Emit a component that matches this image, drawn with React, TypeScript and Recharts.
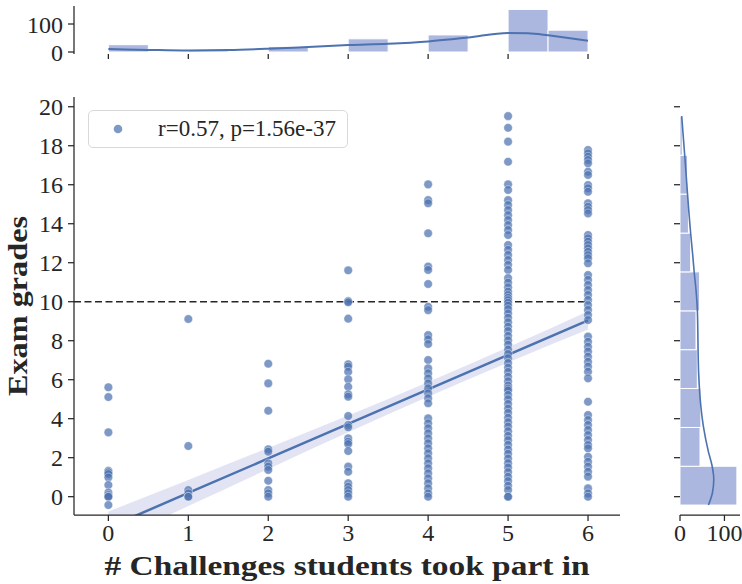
import React from 'react';
import {
  ComposedChart,
  Scatter,
  Line,
  Area,
  XAxis,
  YAxis,
  ReferenceLine,
  ReferenceArea,
  Legend,
} from 'recharts';

const FONT = "'Liberation Serif', 'DejaVu Serif', 'Times New Roman', serif";
const INK = '#262626';
const BLUE = '#4C72B0';
const HIST = '#abb7df';
const BAND = '#e2e4f4';

// ---------- categories ----------
const challengeCounts = [0, 1, 2, 3, 4, 5, 6];

// ---------- exam grades for each number of challenges ----------
const grades0 = [5.61, 5.11, 3.3, 1.33, 1.25, 1.16, 0.99, 0.6, 0.21, 0.09, 0.0, 0.0, -0.43];
const grades1 = [9.11, 2.6, 0.34, 0.17, 0.0, 0.0];
const grades2 = [6.82, 5.81, 4.41, 2.43, 2.31, 1.71, 1.54, 1.37, 0.82, 0.34, 0.17, 0.0];
const grades3 = [
  11.61, 10.03, 9.97, 9.13, 6.79, 6.67, 6.41, 6.02, 5.64, 5.25, 5.13, 4.14, 3.68, 3.56, 2.99, 2.82,
  2.7, 2.34, 1.54, 1.28, 0.69, 0.51, 0.34, 0.17, 0.0,
];
const grades4 = [
  16.02, 15.21, 15.05, 13.51, 11.8, 11.63, 10.91, 9.74, 9.57, 8.29, 8.07, 7.83, 7.01, 6.58, 6.33,
  6.07, 5.81, 5.56, 5.3, 5.05, 4.79, 4.02, 3.76, 3.51, 3.25, 2.99, 2.74, 2.48, 2.23, 1.97, 1.71,
  1.46, 1.2, 0.94, 0.69, 0.43, 0.17, 0.0,
];
const grades5 = [
  19.52, 18.92, 18.21, 17.18, 16.02, 15.73, 15.21, 14.96, 14.7, 14.44, 14.19, 13.93, 13.68, 13.42,
  12.91, 12.66, 12.4, 12.14, 11.89, 11.63, 11.21, 10.98, 10.74, 10.52, 10.35, 10.2, 10.08, 9.95,
  9.8, 9.62, 9.4, 9.18, 8.95, 8.72, 8.5, 8.25, 8.02, 7.8, 7.55, 7.32, 7.1, 6.86, 6.62, 6.4, 6.15,
  5.92, 5.7, 5.55, 5.45, 5.22, 5.0, 4.76, 4.52, 4.3, 4.05, 3.82, 3.6, 3.36, 3.12, 2.9, 2.66, 2.42,
  2.2, 1.96, 1.72, 1.5, 1.26, 1.02, 0.8, 0.56, 0.34, 0.0, 0.0,
];
const grades6 = [
  17.78, 17.61, 17.44, 17.27, 17.1, 16.67, 16.5, 15.98, 15.82, 15.64, 15.05, 14.87, 14.7, 14.53,
  13.42, 13.25, 13.08, 12.91, 12.74, 12.56, 12.39, 12.23, 11.97, 11.37, 11.12, 10.86, 10.6, 10.35,
  10.09, 9.83, 9.58, 9.32, 9.06, 8.21, 7.95, 7.69, 7.44, 7.18, 6.92, 6.67, 6.41, 6.07, 4.87, 4.19,
  3.93, 3.68, 3.42, 3.16, 2.91, 2.65, 2.48, 2.05, 1.79, 1.54, 1.28, 1.03, 0.43, 0.17, 0.0,
];
const gradesByChallenge = [grades0, grades1, grades2, grades3, grades4, grades5, grades6];

// ---------- regression line + confidence band ----------
const regX = [0, 1, 2, 3, 4, 5, 6];
const regY = [-1.58, 0.19, 1.96, 3.73, 5.5, 7.27, 9.04];
const ciLow = [-2.4, -0.48, 1.42, 3.3, 5.12, 6.88, 8.57];
const ciHigh = [-0.76, 0.86, 2.5, 4.16, 5.88, 7.66, 9.51];

const passMark = 10;
const passMarkEndX = 6;
const legendLabel = 'r=0.57, p=1.56e-37';
const xTitle = '# Challenges students took part in';
const yTitle = 'Exam grades';

// ---------- ticks ----------
const xTicks = [0, 1, 2, 3, 4, 5, 6];
const yTicks = [0, 2, 4, 6, 8, 10, 12, 14, 16, 18, 20];
const countTicks = [0, 100];

// ---------- top marginal histogram (challenges) ----------
const topBinStart = [0, 1, 2, 3, 4, 5, 5.5];
const topBinEnd = [0.5, 1.5, 2.5, 3.5, 4.5, 5.5, 6];
const topBinCount = [26, 7, 20, 47, 61, 152, 78];
const topKdeX = [0, 0.5, 1, 1.5, 2, 2.5, 3, 3.5, 4, 4.5, 5, 5.25, 5.5, 6];
const topKdeCount = [10.6, 7.5, 5.3, 7, 11.8, 18, 24.7, 29.4, 37.6, 51.8, 68.2, 67, 60, 40];

// ---------- right marginal histogram (grades) ----------
const rightBinEdges = [-0.43, 1.56, 3.55, 5.55, 7.54, 9.53, 11.53, 13.52, 15.52, 17.51, 19.52];
const rightBinCount = [128, 45, 47, 39, 36, 44, 24, 19, 17, 5];
const rightKdeGrade = [-0.43, 0.2, 0.9, 1.6, 2.3, 3.6, 4.7, 5.6, 6.3, 7.6, 8.9, 9.6, 10.6, 11.5, 12.4, 13.5, 15.5, 17.4, 19.52];
const rightKdeCount = [64, 73, 76, 72, 64, 52.6, 46.6, 43.6, 42, 40.6, 39.8, 39, 36, 32, 28.6, 24, 17, 11, 3.8];

// ---------- axis domains ----------
const X_DOMAIN: [number, number] = [-0.43, 6.4];
const Y_DOMAIN: [number, number] = [-0.94, 20.5];
const TOP_COUNT_DOMAIN: [number, number] = [-7.14, 164.3];
const RIGHT_COUNT_DOMAIN: [number, number] = [0, 135];

// ---------- derived tables ----------
const scatterData = challengeCounts.flatMap((c, i) =>
  gradesByChallenge[i].map((g) => ({ x: c, y: g }))
);
const regData = regX.map((x, i) => ({ x, y: regY[i] }));
const bandData = regX.map((x, i) => ({ x, lo: ciLow[i], hi: ciHigh[i] }));
const topKdeData = topKdeX.map((x, i) => ({ x, c: topKdeCount[i] }));
const rightKdeData = rightKdeGrade.map((g, i) => ({ g, c: rightKdeCount[i] }));

const axisStyle = { stroke: INK, strokeWidth: 1.25 };
const tickStyle = { fontSize: 24, fill: INK, fontFamily: FONT };
const NoLabel = () => <g />;

const Dot = (p: any) => (
  <circle
    cx={p.cx}
    cy={p.cy}
    r={4.3}
    fill={BLUE}
    fillOpacity={0.72}
    stroke="#ffffff"
    strokeWidth={0.5}
    strokeOpacity={0.8}
  />
);

const XTitle = (props: any) => {
  const vb = props.viewBox || { x: 74, y: 515, width: 546, height: 69 };
  return (
    <text
      x={vb.x + vb.width / 2}
      y={vb.y + 60}
      textAnchor="middle"
      fontFamily={FONT}
      fontWeight="bold"
      fontSize={27}
      fill={INK}
      textLength={485}
      lengthAdjust="spacingAndGlyphs"
    >
      {xTitle}
    </text>
  );
};

const YTitle = (props: any) => {
  const vb = props.viewBox || { x: 0, y: 97, width: 74, height: 418 };
  const cx = vb.x + 27;
  const cy = vb.y + vb.height / 2;
  return (
    <text
      x={cx}
      y={cy}
      transform={`rotate(-90 ${cx} ${cy})`}
      textAnchor="middle"
      fontFamily={FONT}
      fontWeight="bold"
      fontSize={27}
      fill={INK}
      textLength={180}
      lengthAdjust="spacingAndGlyphs"
    >
      {yTitle}
    </text>
  );
};

const LegendBox = (props: any) => {
  const entry = (props.payload || []).find((p: any) => p.type !== 'none');
  return (
    <div
      style={{
        boxSizing: 'border-box',
        width: 260,
        height: 38,
        border: '1px solid #d9d9d9',
        borderRadius: 5,
        background: '#ffffff',
        position: 'relative',
        fontFamily: FONT,
        fontSize: 23,
        color: INK,
      }}
    >
      <svg width={12} height={12} style={{ position: 'absolute', left: 23, top: 12 }}>
        <circle cx={6} cy={6} r={4.3} fill={BLUE} fillOpacity={0.72} />
      </svg>
      <span
        style={{
          position: 'absolute',
          left: 69,
          top: 0,
          lineHeight: '36px',
          whiteSpace: 'nowrap',
        }}
      >
        {entry ? entry.value : legendLabel}
      </span>
    </div>
  );
};

export default function App() {
  return (
    <div style={{ position: 'absolute', left: 0, top: 0, width: 742, height: 584, background: '#fff' }}>
      {/* Main joint plot */}
      <div style={{ position: 'absolute', left: 0, top: 0 }}>
        <ComposedChart width={742} height={584} margin={{ top: 97, right: 122, bottom: 0, left: 0 }}>
          <XAxis
            type="number"
            dataKey="x"
            domain={X_DOMAIN}
            ticks={xTicks}
            interval={0}
            allowDataOverflow
            height={69}
            tickSize={6}
            tickMargin={3}
            axisLine={axisStyle}
            tickLine={axisStyle}
            tick={tickStyle}
            label={{ content: XTitle }}
          />
          <YAxis
            type="number"
            dataKey="y"
            domain={Y_DOMAIN}
            ticks={yTicks}
            interval={0}
            allowDataOverflow
            width={74}
            tickSize={6}
            tickMargin={5}
            axisLine={axisStyle}
            tickLine={axisStyle}
            tick={tickStyle}
            label={{ content: YTitle }}
          />
          <Area
            data={bandData}
            dataKey={(d: any) => [d.lo, d.hi]}
            type="monotone"
            stroke="none"
            fill={BAND}
            fillOpacity={1}
            dot={false}
            activeDot={false}
            legendType="none"
            isAnimationActive={false}
          />
          <Scatter
            data={scatterData}
            name={legendLabel}
            shape={Dot}
            fill={BLUE}
            isAnimationActive={false}
          />
          <Line
            data={regData}
            dataKey="y"
            type="linear"
            stroke={BLUE}
            strokeWidth={2.5}
            dot={false}
            activeDot={false}
            legendType="none"
            isAnimationActive={false}
          />
          <ReferenceLine
            segment={[
              { x: X_DOMAIN[0], y: passMark },
              { x: passMarkEndX, y: passMark },
            ]}
            stroke={INK}
            strokeWidth={1.5}
            strokeDasharray="7 3.5"
          />
          <Legend
            content={LegendBox}
            layout="vertical"
            align="center"
            verticalAlign="middle"
            wrapperStyle={{ left: 88, top: 110, width: 260, height: 38 }}
          />
        </ComposedChart>
      </div>

      {/* Top marginal histogram */}
      <div style={{ position: 'absolute', left: 0, top: 0 }}>
        <ComposedChart width={742} height={72} margin={{ top: 6, right: 122, bottom: 0, left: 0 }}>
          <XAxis
            type="number"
            dataKey="x"
            domain={X_DOMAIN}
            ticks={xTicks}
            interval={0}
            allowDataOverflow
            height={18}
            tickSize={5}
            axisLine={false}
            tickLine={axisStyle}
            tick={NoLabel}
          />
          <YAxis
            type="number"
            domain={TOP_COUNT_DOMAIN}
            ticks={countTicks}
            interval={0}
            allowDataOverflow
            width={74}
            tickSize={6}
            tickMargin={5}
            axisLine={axisStyle}
            tickLine={axisStyle}
            tick={tickStyle}
          />
          {topBinStart.map((s, i) => (
            <ReferenceArea
              key={`tb${i}`}
              x1={s}
              x2={topBinEnd[i]}
              y1={0}
              y2={topBinCount[i]}
              fill={HIST}
              fillOpacity={1}
              stroke="#ffffff"
              strokeWidth={1}
            />
          ))}
          <Line
            data={topKdeData}
            dataKey="c"
            type="monotone"
            stroke={BLUE}
            strokeWidth={2}
            dot={false}
            activeDot={false}
            isAnimationActive={false}
          />
        </ComposedChart>
      </div>

      {/* Right marginal histogram */}
      <div style={{ position: 'absolute', left: 0, top: 0 }}>
        <ComposedChart
          layout="vertical"
          width={742}
          height={584}
          margin={{ top: 97, right: 2, bottom: 0, left: 0 }}
        >
          <XAxis
            type="number"
            dataKey="c"
            domain={RIGHT_COUNT_DOMAIN}
            ticks={countTicks}
            interval={0}
            allowDataOverflow
            height={69}
            tickSize={6}
            tickMargin={3}
            axisLine={axisStyle}
            tickLine={axisStyle}
            tick={tickStyle}
          />
          <YAxis
            type="number"
            dataKey="g"
            domain={Y_DOMAIN}
            ticks={yTicks}
            interval={0}
            allowDataOverflow
            reversed
            width={680}
            tickSize={6}
            axisLine={false}
            tickLine={axisStyle}
            tick={NoLabel}
          />
          {rightBinCount.map((c, i) => (
            <ReferenceArea
              key={`rb${i}`}
              x1={0}
              x2={c}
              y1={rightBinEdges[i]}
              y2={rightBinEdges[i + 1]}
              fill={HIST}
              fillOpacity={1}
              stroke="#ffffff"
              strokeWidth={1}
            />
          ))}
          <Line
            data={rightKdeData}
            dataKey="c"
            type="monotone"
            stroke={BLUE}
            strokeWidth={1.6}
            dot={false}
            activeDot={false}
            isAnimationActive={false}
          />
        </ComposedChart>
      </div>
    </div>
  );
}
